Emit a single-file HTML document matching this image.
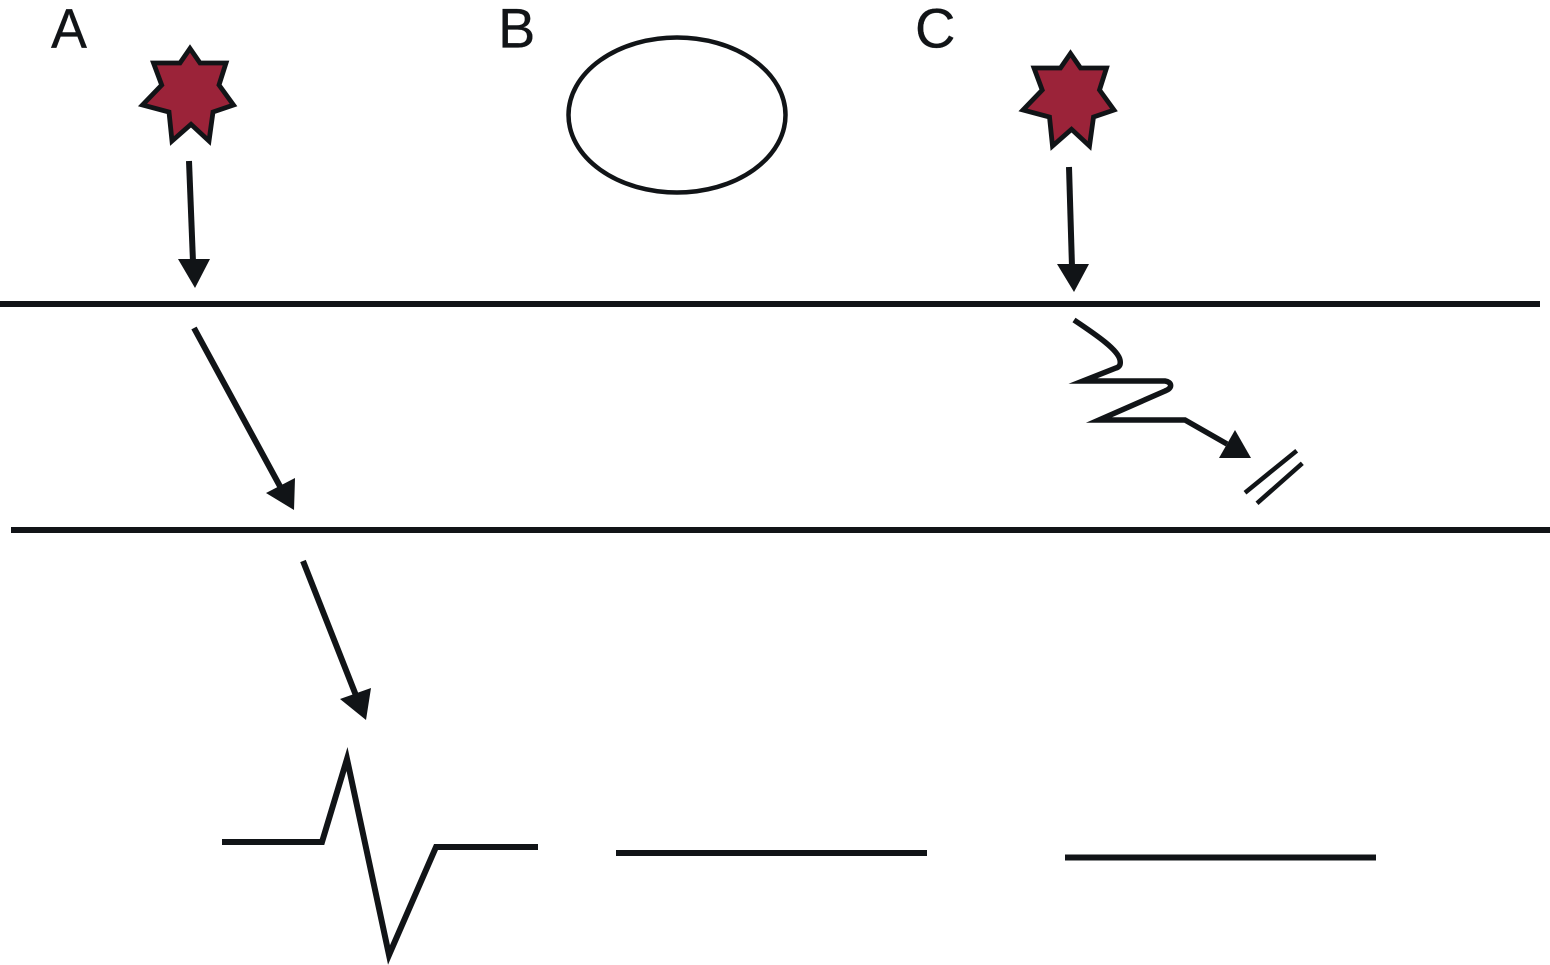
<!DOCTYPE html>
<html>
<head>
<meta charset="utf-8">
<style>
html,body{margin:0;padding:0;background:#fff;}
svg{display:block;}
text{font-family:"Liberation Sans",Arial,sans-serif;font-size:56px;fill:#111417;stroke:#111417;stroke-width:.3px;}
</style>
</head>
<body>
<svg width="1550" height="965" viewBox="0 0 1550 965" xmlns="http://www.w3.org/2000/svg">
<rect width="1550" height="965" fill="#fff"/>
<defs>
<polygon id="star" points="190,48.5 200,63 226,63 219,85 233.5,105 213,112 209,141 191,124.3 172,141 169,112 142.5,105 161.7,85 153.5,63 180,63" fill="#9b2339" stroke="#111417" stroke-width="4.8" stroke-linejoin="miter" stroke-miterlimit="10"/>
</defs>
<text x="51" y="47.5" textLength="36" lengthAdjust="spacingAndGlyphs">A</text>
<text x="498" y="47.5">B</text>
<text x="915" y="47.5">C</text>

<use href="#star"/>
<use href="#star" x="880.5" y="5"/>

<ellipse cx="677" cy="115" rx="108.5" ry="77.5" fill="none" stroke="#111417" stroke-width="4.5"/>

<g stroke="#111417" fill="none" stroke-width="6">
<line x1="0" y1="304" x2="1540" y2="304"/>
<line x1="11" y1="530" x2="1550" y2="530"/>
<line x1="189" y1="161" x2="193" y2="262"/>
<line x1="1069" y1="167" x2="1072" y2="267"/>
<line x1="194" y1="328" x2="282" y2="490"/>
<line x1="303" y1="561" x2="357" y2="698"/>
<path d="M1074,320 C1098,336 1118,350 1120,360 C1121,365 1119,367 1116,368 L1083,381 L1165,381 C1172,382 1173,388 1165,391 L1099,420 L1185,420 L1227,444" stroke-linejoin="miter" stroke-miterlimit="10" stroke-width="5.5"/>
<path d="M222,842 L322,842 L347,759 L389,955 L436,847 L538,847" stroke-linejoin="miter" stroke-miterlimit="14"/>
<line x1="616" y1="853" x2="927" y2="853"/>
<line x1="1065" y1="857.5" x2="1376" y2="857.5"/>
<line x1="1245" y1="492.7" x2="1296.7" y2="450.7" stroke-width="4.5"/>
<line x1="1257" y1="503.3" x2="1302.3" y2="463.3" stroke-width="4.5"/>
</g>

<g fill="#111417">
<polygon points="178,259 210,259 195,288"/>
<polygon points="1057,264 1089,264 1074,292"/>
<polygon points="266,493 295,478 294,510"/>
<polygon points="340,699 371,688 366,720"/>
<polygon points="1235,430 1251,458 1219,458"/>
</g>
</svg>
</body>
</html>
